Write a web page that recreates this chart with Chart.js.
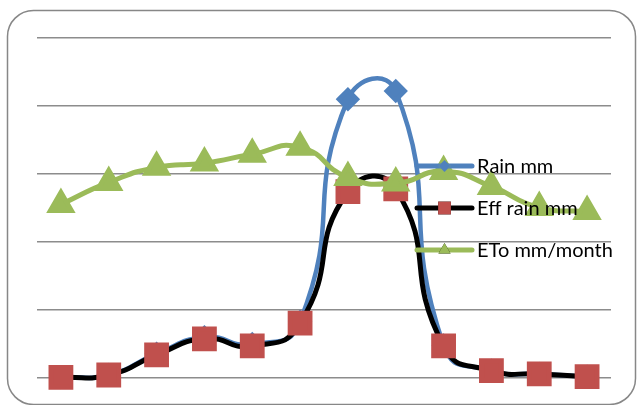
<!DOCTYPE html>
<html>
<head>
<meta charset="utf-8">
<script src="https://cdn.jsdelivr.net/npm/chart.js@4/dist/chart.umd.min.js"></script>
<style>
  html, body { margin: 0; padding: 0; background: #ffffff; }
  #wrap { position: relative; width: 638px; height: 405px; }
</style>
</head>
<body>
<div id="wrap"><canvas id="c" width="638" height="405"></canvas></div>
<script>
// Monthly water balance
const months = ['Jan', 'Feb', 'Mar', 'Apr', 'May', 'Jun', 'Jul', 'Aug', 'Sep', 'Oct', 'Nov', 'Dec'];
const rainMm = [0.6, 2.3, 17.8, 30.0, 25.0, 41.5, 205, 211, 24.0, 5.4, 3.0, 1.0];
const effRainMm = [0.5, 2.2, 17.0, 28.8, 23.6, 40.3, 137, 139, 23.6, 5.4, 3.0, 1.0];
const etoMmMonth = [127.6, 143.8, 154.9, 158.0, 164.5, 169.6, 147.5, 143.3, 151.9, 140.9, 125.4, 122.4];
const yTicks = [0, 50, 100, 150, 200, 250];

const BLUE = '#4F81BD', RED = '#C0504D', GREEN = '#9BBB59', BLACK = '#000000';

// Rounded outer frame behind everything
const framePlugin = {
  id: 'frame',
  beforeDraw(chart) {
    const ctx = chart.ctx;
    ctx.save();
    ctx.fillStyle = '#ffffff';
    ctx.fillRect(0, 0, chart.width, chart.height);
    ctx.beginPath();
    ctx.roundRect(7.5, 10.5, 628, 394, 26);
    ctx.strokeStyle = '#878787';
    ctx.lineWidth = 1.5;
    ctx.stroke();
    ctx.restore();
  }
};

// Legend drawn over the plot, on the right side
const overlayLegend = {
  id: 'overlayLegend',
  afterDatasetsDraw(chart) {
    const ctx = chart.ctx;
    const x0 = 417, x1 = 472, tx = 477;
    const rows = [166, 208, 250];
    ctx.save();
    chart.data.datasets.forEach((ds, i) => {
      const y = rows[i];
      ctx.beginPath();
      ctx.moveTo(x0, y);
      ctx.lineTo(x1, y);
      ctx.strokeStyle = ds.borderColor;
      ctx.lineWidth = 5;
      ctx.lineCap = 'round';
      ctx.stroke();
      Chart.helpers.drawPoint(ctx, {
        pointStyle: ds.pointStyle,
        radius: ds.legendRadius,
        rotation: 0
      }, (x0 + x1) / 2, y);
      ctx.fillStyle = ds.pointBackgroundColor;
      ctx.fill();
      ctx.fillStyle = '#000000';
      ctx.font = '20px Lato, "Open Sans", sans-serif';
      ctx.textBaseline = 'middle';
      ctx.textAlign = 'left';
      ctx.fillText(ds.label, tx, y + 1);
    });
    ctx.restore();
  }
};

new Chart(document.getElementById('c'), {
  type: 'line',
  data: {
    labels: months,
    datasets: [
      {
        label: 'Rain mm',
        data: rainMm,
        borderColor: BLUE,
        backgroundColor: BLUE,
        pointBackgroundColor: BLUE,
        pointBorderColor: BLUE,
        pointStyle: 'rectRot',
        pointRadius: 9,
        legendRadius: 6,
        borderWidth: 4.5,
        tension: 0.55,
        clip: false,
        order: 3
      },
      {
        label: 'Eff rain mm',
        data: effRainMm,
        borderColor: BLACK,
        backgroundColor: RED,
        pointBackgroundColor: RED,
        pointBorderColor: RED,
        pointStyle: 'rect',
        pointRadius: 14,
        legendRadius: 9,
        borderWidth: 5,
        tension: 0.55,
        clip: false,
        order: 2
      },
      {
        label: 'ETo mm/month',
        data: etoMmMonth,
        borderColor: GREEN,
        backgroundColor: GREEN,
        pointBackgroundColor: GREEN,
        pointBorderColor: GREEN,
        pointStyle: 'triangle',
        pointRadius: 12,
        legendRadius: 7,
        borderWidth: 5,
        tension: 0.55,
        clip: false,
        order: 1
      }
    ]
  },
  options: {
    responsive: false,
    animation: false,
    events: [],
    layout: { padding: { left: 37, right: 27, top: 38, bottom: 27 } },
    plugins: {
      legend: { display: false },
      tooltip: { enabled: false },
      title: { display: false }
    },
    elements: {
      point: { borderWidth: 0, hoverRadius: 0 },
      line: { capBezierPoints: false }
    },
    scales: {
      x: {
        offset: true,
        grid: { display: false, drawTicks: false },
        border: { display: false },
        ticks: { display: false }
      },
      y: {
        min: yTicks[0],
        max: yTicks[yTicks.length - 1],
        afterBuildTicks(scale) { scale.ticks = yTicks.map(v => ({ value: v })); },
        grid: { color: '#8c8c8c', lineWidth: 1.5, drawTicks: false },
        border: { display: false },
        ticks: { display: false }
      }
    }
  },
  plugins: [framePlugin, overlayLegend]
});
</script>
</body>
</html>
